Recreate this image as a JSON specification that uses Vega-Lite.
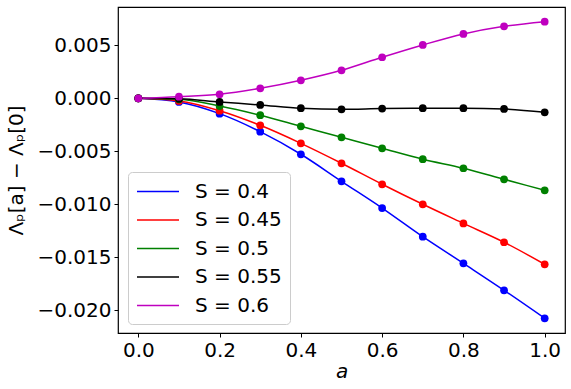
{
  "$schema": "https://vega.github.io/schema/vega-lite/v6.json",
  "autosize": "none",
  "width": 447,
  "height": 326,
  "padding": {"left": 118, "top": 7, "right": 6, "bottom": 56},
  "background": "white",
  "config": {
    "font": "DejaVu Sans",
    "view": {"stroke": "black", "strokeWidth": 1.2},
    "axis": {"grid": false, "domain": false, "tickColor": "black", "tickSize": 4, "labelColor": "black", "labelFontSize": 20, "titleFontSize": 20, "titleFontWeight": "normal", "titleColor": "black", "labelPadding": 3}
  },
  "data": {"values": [
    {"a": 0.0, "S": "S = 0.4", "v": 0},
    {"a": 0.1, "S": "S = 0.4", "v": -0.00035},
    {"a": 0.2, "S": "S = 0.4", "v": -0.00145},
    {"a": 0.3, "S": "S = 0.4", "v": -0.00315},
    {"a": 0.4, "S": "S = 0.4", "v": -0.00528},
    {"a": 0.5, "S": "S = 0.4", "v": -0.00783},
    {"a": 0.6, "S": "S = 0.4", "v": -0.01035},
    {"a": 0.7, "S": "S = 0.4", "v": -0.01305},
    {"a": 0.8, "S": "S = 0.4", "v": -0.01557},
    {"a": 0.9, "S": "S = 0.4", "v": -0.01811},
    {"a": 1.0, "S": "S = 0.4", "v": -0.02075},
    {"a": 0.0, "S": "S = 0.45", "v": 0},
    {"a": 0.1, "S": "S = 0.45", "v": -0.00025},
    {"a": 0.2, "S": "S = 0.45", "v": -0.00117},
    {"a": 0.3, "S": "S = 0.45", "v": -0.00255},
    {"a": 0.4, "S": "S = 0.45", "v": -0.00425},
    {"a": 0.5, "S": "S = 0.45", "v": -0.00613},
    {"a": 0.6, "S": "S = 0.45", "v": -0.00811},
    {"a": 0.7, "S": "S = 0.45", "v": -0.0100},
    {"a": 0.8, "S": "S = 0.45", "v": -0.0118},
    {"a": 0.9, "S": "S = 0.45", "v": -0.01358},
    {"a": 1.0, "S": "S = 0.45", "v": -0.01566},
    {"a": 0.0, "S": "S = 0.5", "v": 0},
    {"a": 0.1, "S": "S = 0.5", "v": -0.0001},
    {"a": 0.2, "S": "S = 0.5", "v": -0.00073},
    {"a": 0.3, "S": "S = 0.5", "v": -0.0016},
    {"a": 0.4, "S": "S = 0.5", "v": -0.00264},
    {"a": 0.5, "S": "S = 0.5", "v": -0.00368},
    {"a": 0.6, "S": "S = 0.5", "v": -0.00472},
    {"a": 0.7, "S": "S = 0.5", "v": -0.00575},
    {"a": 0.8, "S": "S = 0.5", "v": -0.0066},
    {"a": 0.9, "S": "S = 0.5", "v": -0.00764},
    {"a": 1.0, "S": "S = 0.5", "v": -0.00868},
    {"a": 0.0, "S": "S = 0.55", "v": 0},
    {"a": 0.1, "S": "S = 0.55", "v": -0.00005},
    {"a": 0.2, "S": "S = 0.55", "v": -0.00035},
    {"a": 0.3, "S": "S = 0.55", "v": -0.00063},
    {"a": 0.4, "S": "S = 0.55", "v": -0.00094},
    {"a": 0.5, "S": "S = 0.55", "v": -0.00104},
    {"a": 0.6, "S": "S = 0.55", "v": -0.00097},
    {"a": 0.7, "S": "S = 0.55", "v": -0.00094},
    {"a": 0.8, "S": "S = 0.55", "v": -0.00094},
    {"a": 0.9, "S": "S = 0.55", "v": -0.00101},
    {"a": 1.0, "S": "S = 0.55", "v": -0.00132},
    {"a": 0.0, "S": "S = 0.6", "v": 0},
    {"a": 0.1, "S": "S = 0.6", "v": 0.00015},
    {"a": 0.2, "S": "S = 0.6", "v": 0.00038},
    {"a": 0.3, "S": "S = 0.6", "v": 0.00094},
    {"a": 0.4, "S": "S = 0.6", "v": 0.0017},
    {"a": 0.5, "S": "S = 0.6", "v": 0.00264},
    {"a": 0.6, "S": "S = 0.6", "v": 0.00387},
    {"a": 0.7, "S": "S = 0.6", "v": 0.00503},
    {"a": 0.8, "S": "S = 0.6", "v": 0.00607},
    {"a": 0.9, "S": "S = 0.6", "v": 0.00679},
    {"a": 1.0, "S": "S = 0.6", "v": 0.00723}
  ]},
  "encoding": {
    "x": {"field": "a", "type": "quantitative",
      "scale": {"domain": [-0.05, 1.05], "nice": false, "zero": false},
      "axis": {"values": [0, 0.2, 0.4, 0.6, 0.8, 1.0], "format": ".1f", "title": "a", "titleFontStyle": "italic", "titlePadding": 1, "labelFlush": false}},
    "y": {"field": "v", "type": "quantitative",
      "scale": {"domain": [-0.02214, 0.00861], "nice": false, "zero": false},
      "axis": {"values": [-0.02, -0.015, -0.01, -0.005, 0, 0.005], "format": ".3f", "title": "Λₚ[a] − Λₚ[0]", "titlePadding": 10, "labelFlush": false}},
    "color": {"field": "S", "type": "nominal",
      "scale": {"domain": ["S = 0.4", "S = 0.45", "S = 0.5", "S = 0.55", "S = 0.6"], "range": ["#0000ff", "#ff0000", "#008000", "#000000", "#bf00bf"]}}
  },
  "layer": [
    {"mark": {"type": "line", "interpolate": "monotone", "strokeWidth": 1.5},
     "encoding": {"color": {"field": "S", "type": "nominal",
        "legend": {"orient": "none", "legendX": 10, "legendY": 165, "title": null, "symbolType": "M-1,0H3", "symbolSize": 441, "symbolStrokeWidth": 1.5, "labelFontSize": 20, "labelColor": "black", "labelOffset": 36, "padding": 8, "rowPadding": 6.5, "fillColor": "rgba(255,255,255,0.8)", "strokeColor": "#cccccc", "cornerRadius": 4}}}},
    {"mark": {"type": "point", "filled": true, "size": 60, "opacity": 1}}
  ]
}
